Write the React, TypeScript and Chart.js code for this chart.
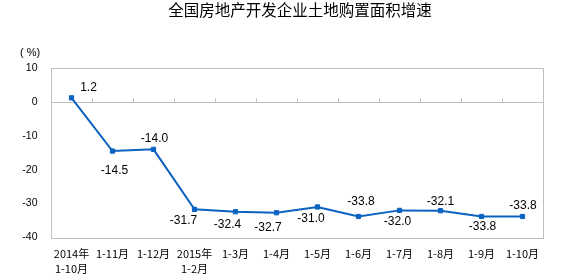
import React, { useEffect, useRef } from "react";
import { Chart, registerables } from "chart.js";

Chart.register(...registerables);

const TITLE = "全国房地产开发企业土地购置面积增速";
const UNIT = "( %)";
const categories: string[][] = [
  ["2014年", "1-10月"],
  ["1-11月"],
  ["1-12月"],
  ["2015年", "1-2月"],
  ["1-3月"],
  ["1-4月"],
  ["1-5月"],
  ["1-6月"],
  ["1-7月"],
  ["1-8月"],
  ["1-9月"],
  ["1-10月"],
];
const growth: number[] = [1.2, -14.5, -14.0, -31.7, -32.4, -32.7, -31.0, -33.8, -32.0, -32.1, -33.8, -33.8];
const yTicks: number[] = [10, 0, -10, -20, -30, -40];

// label placement (style): offsets in px from the point
const labelDx: number[] = [17, 2, 1, -11, -8, -8.5, -6.5, 2.5, -2, 0, 1, 0.5];
const labelDy: number[] = [-10, 20, -11, 11, 13, 15, 12, -15, 11.5, -9, 10, -10.7];

const LINE = "#0B62C0";
const FRAME = "#BFBFBF";

const decorPlugin = {
  id: "decor",
  beforeDatasetsDraw(chart: any) {
    const { ctx, chartArea: a, scales } = chart;
    const x = scales.x;
    const y = scales.y;
    ctx.save();
    ctx.strokeStyle = FRAME;
    ctx.lineWidth = 1;
    ctx.strokeRect(Math.round(a.left) + 0.5, Math.round(a.top) + 0.5, Math.round(a.right - a.left), Math.round(a.bottom - a.top));
    const y0 = Math.round(y.getPixelForValue(0)) + 0.5;
    ctx.beginPath();
    ctx.moveTo(a.left, y0);
    ctx.lineTo(a.right, y0);
    for (let i = 1; i < categories.length; i++) {
      const px = Math.round((x.getPixelForValue(i - 1) + x.getPixelForValue(i)) / 2) + 0.5;
      ctx.moveTo(px, y0);
      ctx.lineTo(px, y0 - 4);
    }
    ctx.stroke();
    ctx.restore();
  },
  afterDraw(chart: any) {
    const { ctx } = chart;
    ctx.save();
    ctx.fillStyle = "#000";
    ctx.textAlign = "center";
    ctx.textBaseline = "middle";
    ctx.font = '15.5px "Noto Sans CJK SC", sans-serif';
    ctx.fillText(TITLE, 300, 10.5);
    ctx.font = '11px "Liberation Sans", Arial, sans-serif';
    ctx.fillText(UNIT, 30, 52.5);
    // data labels
    const meta = chart.getDatasetMeta(0);
    ctx.font = '12px "Liberation Sans", Arial, sans-serif';
    meta.data.forEach((pt: any, i: number) => {
      ctx.fillText(growth[i].toFixed(1), pt.x + labelDx[i], pt.y + labelDy[i]);
    });
    ctx.restore();
  },
};

export default function App() {
  const ref = useRef<HTMLCanvasElement | null>(null);
  useEffect(() => {
    document.body.style.margin = "0";
    if (!ref.current) return;
    const chart = new Chart(ref.current, {
      type: "line",
      data: {
        labels: categories,
        datasets: [
          {
            data: growth,
            borderColor: LINE,
            backgroundColor: LINE,
            borderWidth: 2,
            pointStyle: "rect",
            pointRadius: 3,
            pointBorderWidth: 1,
            pointBorderColor: LINE,
            pointBackgroundColor: LINE,
            tension: 0,
          },
        ],
      },
      options: {
        animation: false,
        responsive: false,
        maintainAspectRatio: false,
        devicePixelRatio: 1,
        layout: { padding: { left: 0, right: 21, top: 68, bottom: 0 } },
        plugins: {
          legend: { display: false },
          title: { display: false },
          tooltip: { enabled: false },
        },
        scales: {
          x: {
            type: "category",
            offset: true,
            grid: { display: false, drawTicks: false },
            border: { display: false },
            ticks: {
              color: "#000",
              padding: 9,
              maxRotation: 0,
              autoSkip: false,
              font: { family: '"Noto Sans CJK SC", sans-serif', size: 11, lineHeight: 15 / 11 },
            },
            afterFit(scale: any) {
              scale.height = 276 - 237.5;
            },
          },
          y: {
            min: -40,
            max: 10,
            afterBuildTicks(scale: any) {
              scale.ticks = yTicks.map((v) => ({ value: v }));
            },
            grid: { display: false, drawTicks: false },
            border: { display: false },
            ticks: {
              color: "#000",
              padding: 13.5,
              font: { family: '"Liberation Sans", Arial, sans-serif', size: 10.5 },
            },
            afterFit(scale: any) {
              scale.width = 51;
            },
          },
        },
      },
      plugins: [decorPlugin],
    });
    return () => chart.destroy();
  }, []);
  return (
    <div style={{ position: "fixed", left: 0, top: 0, width: 564, height: 276 }}>
      <canvas ref={ref} width={564} height={276} style={{ width: 564, height: 276 }} />
    </div>
  );
}
